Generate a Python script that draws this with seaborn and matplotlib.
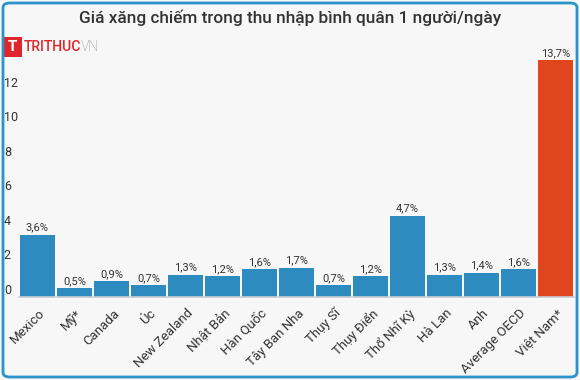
import matplotlib
matplotlib.use("Agg")
import matplotlib.pyplot as plt
import matplotlib.transforms as mtransforms
from matplotlib.patches import FancyBboxPatch
import seaborn as sns
import pandas as pd

countries = ["Mexico", "Mỹ*", "Canada", "Úc", "New Zealand", "Nhật Bản", "Hàn Quốc",
             "Tây Ban Nha", "Thụy Sĩ", "Thụy Điển", "Thổ Nhĩ Kỳ", "Hà Lan", "Anh",
             "Average OECD", "Việt Nam*"]
values = [3.6, 0.5, 0.9, 0.7, 1.3, 1.2, 1.6, 1.7, 0.7, 1.2, 4.7, 1.3, 1.4, 1.6, 13.7]
labels = ["3,6%", "0,5%", "0,9%", "0,7%", "1,3%", "1,2%", "1,6%", "1,7%", "0,7%",
          "1,2%", "4,7%", "1,3%", "1,4%", "1,6%", "13,7%"]
yticks = [0, 2, 4, 6, 8, 10, 12]
title = "Giá xăng chiếm trong thu nhập bình quân 1 người/ngày"

BLUE = "#2e8bc0"
RED = "#e0461e"
BG = "#f7f7f7"

sns.set_theme(style="white")
plt.rcParams["font.family"] = ["Roboto", "DejaVu Sans"]

df = pd.DataFrame({"country": countries, "value": values})
palette = [BLUE] * (len(countries) - 1) + [RED]

fig = plt.figure(figsize=(5.8, 3.8), dpi=100, facecolor=BG)
ax = fig.add_axes([19 / 580, 1 - 297 / 380, 555 / 580, 242 / 380])
ax.set_facecolor(BG)

sns.barplot(data=df, x="country", y="value", hue="country", palette=palette,
            legend=False, width=0.95, saturation=1, ax=ax, edgecolor="none")

ax.set_ylim(0, 14)
ax.set_xlim(-0.5, len(countries) - 0.5)
ax.set_yticks(yticks)
ax.set_yticklabels([str(t) for t in yticks])
ax.set_xlabel("")
ax.set_ylabel("")
for s in ["top", "right", "left"]:
    ax.spines[s].set_visible(False)
ax.spines["bottom"].set_color("#c8cdd2")
ax.spines["bottom"].set_linewidth(1.2)

ax.tick_params(axis="y", length=0, pad=3, labelsize=9, labelcolor="#333333")
ax.tick_params(axis="x", length=0, pad=7, labelsize=9.5, labelcolor="#333333")
for lab in ax.get_yticklabels():
    lab.set_horizontalalignment("left")
    lab.set_transform(lab.get_transform() + mtransforms.ScaledTranslation(-11 / 100, 8 / 100, fig.dpi_scale_trans))
for lab in ax.get_xticklabels():
    lab.set_rotation(45)
    lab.set_horizontalalignment("right")
    lab.set_rotation_mode("anchor")
    lab.set_transform(lab.get_transform() + mtransforms.ScaledTranslation(1 / 100, 0, fig.dpi_scale_trans))

for i, (v, l) in enumerate(zip(values, labels)):
    ax.annotate(l, (i, v), xytext=(0, 1.5), textcoords="offset points",
                ha="center", va="bottom", fontsize=8, color="#333333")

fig.text(0.5, 1 - 18 / 380, title, ha="center", va="center", fontsize=12.4,
         fontweight="medium", color="#333333")

# logo
fig.patches.append(FancyBboxPatch((3 / 580, 1 - 57 / 380), 19 / 580, 20 / 380,
                                  boxstyle="square,pad=0", transform=fig.transFigure,
                                  facecolor="#e0262d", edgecolor="none"))
fig.text(12.5 / 580, 1 - 47 / 380, "T", ha="center", va="center", fontsize=11,
         fontweight="bold", color="white")
t1 = fig.text(24 / 580, 1 - 47 / 380, "TRITHUC", ha="left", va="center", fontsize=10,
              fontweight="medium", color="#e0262d")
fig.text(0, 0, "VN", ha="left", va="center", fontsize=10, fontweight="light",
         color="#8a8a8a",
         transform=mtransforms.offset_copy(fig.transFigure, fig=fig, x=1, y=0, units="points"),
         ).set_position((79.5 / 580, 1 - 47 / 380))

# border
fig.patches.append(FancyBboxPatch((3 / 580, 3 / 380), 574 / 580, 374 / 380,
                                  boxstyle="round,pad=0,rounding_size=0.012",
                                  transform=fig.transFigure, facecolor="none",
                                  edgecolor="#2a93c9", linewidth=2))

fig.savefig("out.png", dpi=100, facecolor=BG)
